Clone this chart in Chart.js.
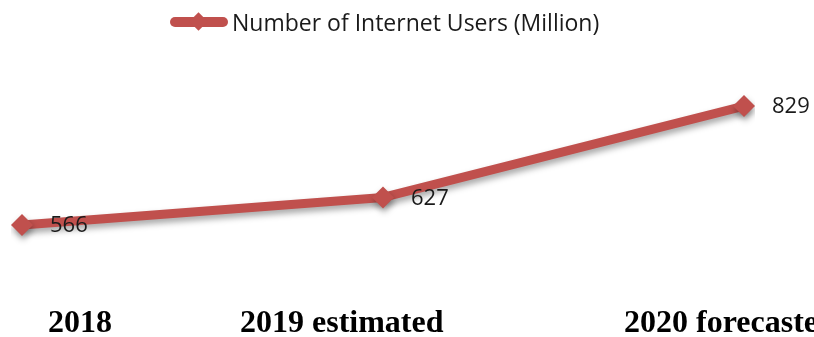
<!DOCTYPE html>
<html>
<head>
<meta charset="utf-8">
<script src="https://cdn.jsdelivr.net/npm/chart.js@4/dist/chart.umd.min.js"></script>
<style>
  html, body { margin: 0; padding: 0; background: #fff; overflow: hidden; }
  #wrap { position: relative; width: 814px; height: 337px; overflow: hidden; }
  #chart { position: absolute; left: 0; top: 0; }
  .legend { position: absolute; left: 170px; top: 8px; height: 28px; display: flex; align-items: center;
            font-family: "Open Sans", sans-serif; font-size: 23px; color: #1a1a1a; white-space: nowrap; }
  .legend .swatch { position: relative; width: 58px; height: 28px; margin-right: 4px; }
  .legend .swatch .bar { position: absolute; left: 0; top: 9px; width: 58px; height: 10px; border-radius: 5px; background: #c0504d; }
  .legend .swatch .dia { position: absolute; left: 22px; top: 7px; width: 13px; height: 13px; background: #c0504d; transform: rotate(45deg); }
  .xlab { position: absolute; top: 303px; font-family: "Liberation Serif", "Times New Roman", serif; font-weight: bold;
          font-size: 32px; line-height: 36px; color: #000; white-space: nowrap; }
</style>
</head>
<body>
<div id="wrap">
  <canvas id="chart" width="814" height="337"></canvas>
  <div class="legend"><span class="swatch"><span class="bar"></span><span class="dia"></span></span><span id="legendText"></span></div>
  <div id="xlabels"></div>
</div>
<script>
// Years shown along the bottom
const categories = ['2018', '2019 estimated', '2020 forecasted'];
// Internet users, in millions
const users = [566, 627, 829];
const seriesName = 'Number of Internet Users (Million)';
const lineColor = '#c0504d';

document.getElementById('legendText').textContent = seriesName;

// Category captions placed beneath the plot
const labelLeft = [48, 240, 624];
const xl = document.getElementById('xlabels');
categories.forEach((c, i) => {
  const s = document.createElement('span');
  s.className = 'xlab';
  s.style.left = labelLeft[i] + 'px';
  s.textContent = c;
  xl.appendChild(s);
});

// Soft drop shadow under the line and markers
const shadowPlugin = {
  id: 'lineShadow',
  beforeDatasetsDraw(chart) {
    const ctx = chart.ctx;
    ctx.save();
    ctx.shadowColor = 'rgba(0,0,0,0.35)';
    ctx.shadowBlur = 6;
    ctx.shadowOffsetX = 1;
    ctx.shadowOffsetY = 4;
  },
  afterDatasetsDraw(chart) {
    chart.ctx.restore();
  }
};

// Value labels to the right of each point
const valueLabels = {
  id: 'valueLabels',
  afterDatasetsDraw(chart) {
    const ctx = chart.ctx;
    const meta = chart.getDatasetMeta(0);
    ctx.save();
    ctx.font = '22px "Open Sans", sans-serif';
    ctx.fillStyle = '#1a1a1a';
    ctx.textBaseline = 'middle';
    ctx.textAlign = 'left';
    meta.data.forEach((pt, i) => {
      ctx.fillText(String(users[i]), pt.x + 28, pt.y + 1);
    });
    ctx.restore();
  }
};

new Chart(document.getElementById('chart'), {
  type: 'line',
  data: {
    labels: categories,
    datasets: [{
      label: seriesName,
      data: users,
      borderColor: lineColor,
      backgroundColor: lineColor,
      borderWidth: 9,
      borderCapStyle: 'round',
      borderJoinStyle: 'round',
      pointStyle: 'rectRot',
      pointRadius: 11,
      pointBorderWidth: 0,
      pointBackgroundColor: lineColor,
      tension: 0
    }]
  },
  options: {
    responsive: false,
    animation: false,
    layout: { padding: { left: 22, right: 70, top: 74, bottom: 37 } },
    plugins: { legend: { display: false }, tooltip: { enabled: false } },
    scales: {
      x: { display: false, offset: false },
      y: { display: false, min: 400, max: 900 }
    }
  },
  plugins: [shadowPlugin, valueLabels]
});
</script>
</body>
</html>
